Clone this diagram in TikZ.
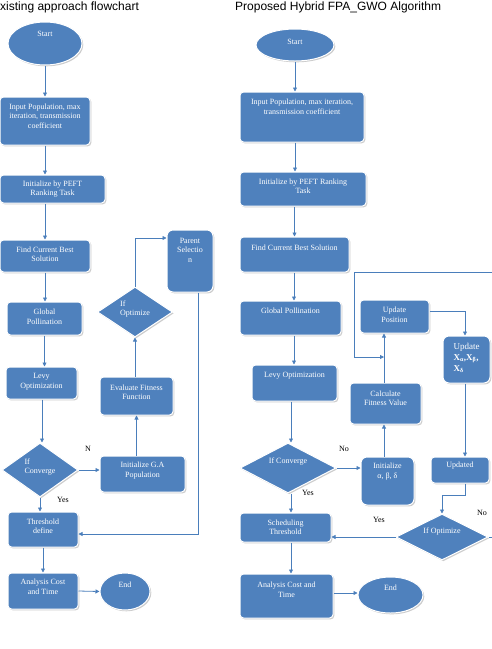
\documentclass[tikz,border=0pt]{standalone}
\usepackage{fontspec}
\setmainfont{Liberation Serif}
\newfontfamily\titlefont{Liberation Sans}
\usetikzlibrary{shapes.geometric,arrows.meta,shadows,calc}
\definecolor{ofblue}{HTML}{4F81BD}
\definecolor{lnblue}{HTML}{4A7EBB}
\tikzset{
 shp/.style={fill=ofblue, draw=white, line width=1pt, inner sep=0pt,
   drop shadow={shadow xshift=1.3pt, shadow yshift=-1.3pt, fill=black!25, opacity=0.8}},
 box/.style={shp, rectangle, rounded corners=3.5pt},
 rbox/.style={shp, rectangle, rounded corners=6pt},
 oval/.style={shp, ellipse},
 dia/.style={shp, diamond},
 txt/.style={text=white, font=\fontsize{8}{9.5}\selectfont, align=center, inner sep=0pt},
 arr/.style={draw=lnblue, line width=0.8pt, -{Triangle[length=4pt,width=4pt]}},
 ln/.style={draw=lnblue, line width=0.8pt},
 lbl/.style={font=\fontsize{8}{9.5}\selectfont, inner sep=0pt},
 ttl/.style={font=\titlefont\fontsize{12}{14}\selectfont, inner sep=0pt, anchor=base west},
}
\newcommand\mkshape[8][]{%
 \node[#2, minimum width=#5pt, minimum height=#6pt] (#3) at (#4) {};
 \node[txt,#1] (#3-t) at ([yshift=#7pt]#3.center) {#8};}
\begin{document}
\begin{tikzpicture}[x=1pt,y=-1pt]
\useasboundingbox (0,0) rectangle (492,649);
% titles
\node[ttl] (tL) at (0,10.5) {xisting approach flowchart};
\node[ttl] (tR) at (235,10.5) {Proposed Hybrid FPA\_GWO Algorithm};
% ---------- left flowchart ----------
\mkshape{oval}{sL}{45,43.5}{74}{43}{10}{Start}
\mkshape{box}{inL}{45,121}{90}{48}{5}{Input Population, max\\iteration, transmission\\coefficient}
\mkshape{box}{peftL}{52.5,189}{105}{28}{0}{Initialize by PEFT\\Ranking Task}
\mkshape{box}{findL}{45,256}{90}{32}{1.5}{Find Current Best\\Solution}
\mkshape{box}{globL}{44.5,318.5}{75}{33}{1.5}{Global\\Pollination}
\mkshape{box}{levyL}{41.5,383}{71}{32}{1.5}{Levy\\Optimization}
\mkshape[align=left]{dia}{convL}{40,470}{76}{54}{3}{If\\Converge}
\mkshape{box}{gaL}{142.5,474}{85}{36}{3.5}{Initialize G.A\\Population}
\mkshape{box}{evalL}{136.5,396}{73}{38}{3.5}{Evaluate Fitness\\Function}
\mkshape[align=left]{dia}{optL}{135,312}{75}{50}{3}{If\\Optimize}
\mkshape{rbox}{parL}{190,261}{46}{62}{11}{Parent\\Selectio\\n}
\mkshape{box}{thrL}{43,529.5}{70}{35}{3}{Threshold\\define}
\mkshape{box}{anL}{43,591}{70}{36}{4}{Analysis Cost\\and Time}
\mkshape{oval}{endL}{125,591.5}{50}{37}{6.5}{End}
% left connectors
\draw[arr] (sL) -- (sL.south |- inL.north);
\draw[arr] (inL.south) -- (inL.south |- peftL.north);
\draw[arr] (findL.north |- peftL.south) -- (findL.north);
\draw[arr] (findL.south) -- (globL.north -| findL.south);
\draw[arr] (globL.south) -- (globL.south |- levyL.north);
\draw[arr] ([xshift=2pt]convL.north |- levyL.south) -- ([xshift=2pt]convL.north);
\draw[arr] (convL.east) -- (gaL.west |- convL.east);
\draw[arr] (evalL.south |- gaL.north) -- (evalL.south);
\draw[arr] (optL.south |- evalL.north) -- (optL.south);
\draw[arr] (optL.north) |- ([yshift=23pt]parL.west);
\draw[arr] ([xshift=8pt]parL.south) |- ([yshift=-4.5pt]thrL.east);
\draw[arr] (convL.south) -- (convL.south |- thrL.north);
\draw[arr] (thrL.south) -- (anL.north);
\draw[arr] (anL.east) -- (endL.west);
\node[lbl] (nL) at (88,449) {N};
\node[lbl] (yL) at (63,500) {Yes};
% ---------- right flowchart ----------
\mkshape{oval}{sR}{295,45}{78}{32}{3}{Start}
\mkshape{box}{inR}{302,117}{124}{50}{10}{Input Population, max iteration,\\transmission coefficient}
\mkshape{box}{peftR}{303,189}{126}{34}{2.5}{Initialize by PEFT Ranking\\Task}
\mkshape{box}{findR}{294.5,254.5}{109}{35}{6.5}{Find Current Best Solution}
\mkshape{box}{globR}{290.5,318}{101}{34}{7}{Global Pollination}
\mkshape{box}{levyR}{294.5,383}{85}{36}{7}{Levy Optimization}
\mkshape{dia}{convR}{288,468}{96}{50}{6}{If Converge}
\mkshape{rbox}{initR}{387.5,481}{53}{48}{9.5}{Initialize\\α, β, δ}
\mkshape{box}{calcR}{385.5,403.5}{71}{41}{5}{Calculate\\Fitness Value}
\mkshape{box}{updPos}{394.5,316.5}{69}{33}{1.5}{Update\\Position}
\mkshape[align=left,font=\fontsize{9}{11}\selectfont]{rbox}{updX}{466.5,359.5}{47}{47}{2}{Update\\\textbf{X\textsubscript{α},X\textsubscript{β},}\\\textbf{X\textsubscript{δ}}}
\mkshape{box}{updated}{460,470}{58}{26}{4}{Updated}
\mkshape{dia}{optR}{442,537}{92}{46}{5}{If Optimize}
\mkshape{box}{schR}{285.5,527.5}{91}{29}{0}{Scheduling\\Threshold}
\mkshape{box}{anR}{286.5,596}{93}{44}{6}{Analysis Cost and\\Time}
\mkshape{oval}{endR}{390.5,595}{65}{36}{7}{End}
% right connectors
\coordinate (loopA) at (492,272);
\coordinate (loopB) at (354,357);
\coordinate (noEnd) at (492,537);
\draw[arr] (sR.south) -- (sR.south |- inR.north);
\draw[arr] (sR.south |- inR.south) -- (sR.south |- peftR.north);
\draw[arr] (findR.north |- peftR.south) -- (findR.north);
\draw[arr] ([xshift=-0.5pt]findR.south) -- ([xshift=-0.5pt]findR.south |- globR.north);
\draw[arr] ([xshift=-0.5pt]levyR.north |- globR.south) -- ([xshift=-0.5pt]levyR.north);
\draw[arr] ([xshift=3pt]convR.north |- levyR.south) -- ([xshift=3pt]convR.north);
\draw[arr] (convR.east) -- (initR.west |- convR.east);
\draw[arr] ([xshift=-1.5pt]calcR.south |- initR.north) -- ([xshift=-1.5pt]calcR.south);
\draw[arr] ([xshift=-1.5pt]calcR.north) -- ([xshift=-1.5pt]calcR.north |- updPos.south);
\draw[arr] (loopA) -| (loopB) -- ([xshift=-1.5pt]calcR.north |- loopB);
\draw[arr] ([yshift=5.5pt]updPos.east) -| ([xshift=-1.5pt]updX.north);
\draw[arr] ([xshift=-1.5pt]updX.south) -- ([xshift=-1.5pt]updX.south |- updated.north);
\draw[arr] ([xshift=5pt]updated.south) -- ([xshift=5pt,yshift=-12pt]updated.south) -| (optR.north);
\draw[arr] (optR.west) -- (optR.west -| schR.east);
\draw[ln] (optR.east) -- (noEnd);
\draw[arr] ([xshift=3pt]convR.south) -- ([xshift=3pt]convR.south |- schR.north);
\draw[arr] ([xshift=3pt]convR.south |- schR.south) -- ([xshift=3pt]convR.south |- anR.north);
\draw[arr] ([yshift=3pt]anR.east) -- ([yshift=3pt]anR.east -| endR.west);
\node[lbl] (nR) at (344,449) {No};
\node[lbl] (yR1) at (308,493) {Yes};
\node[lbl] (yR2) at (379,520) {Yes};
\node[lbl] (nR2) at (482,513) {No};
\end{tikzpicture}
\end{document}
